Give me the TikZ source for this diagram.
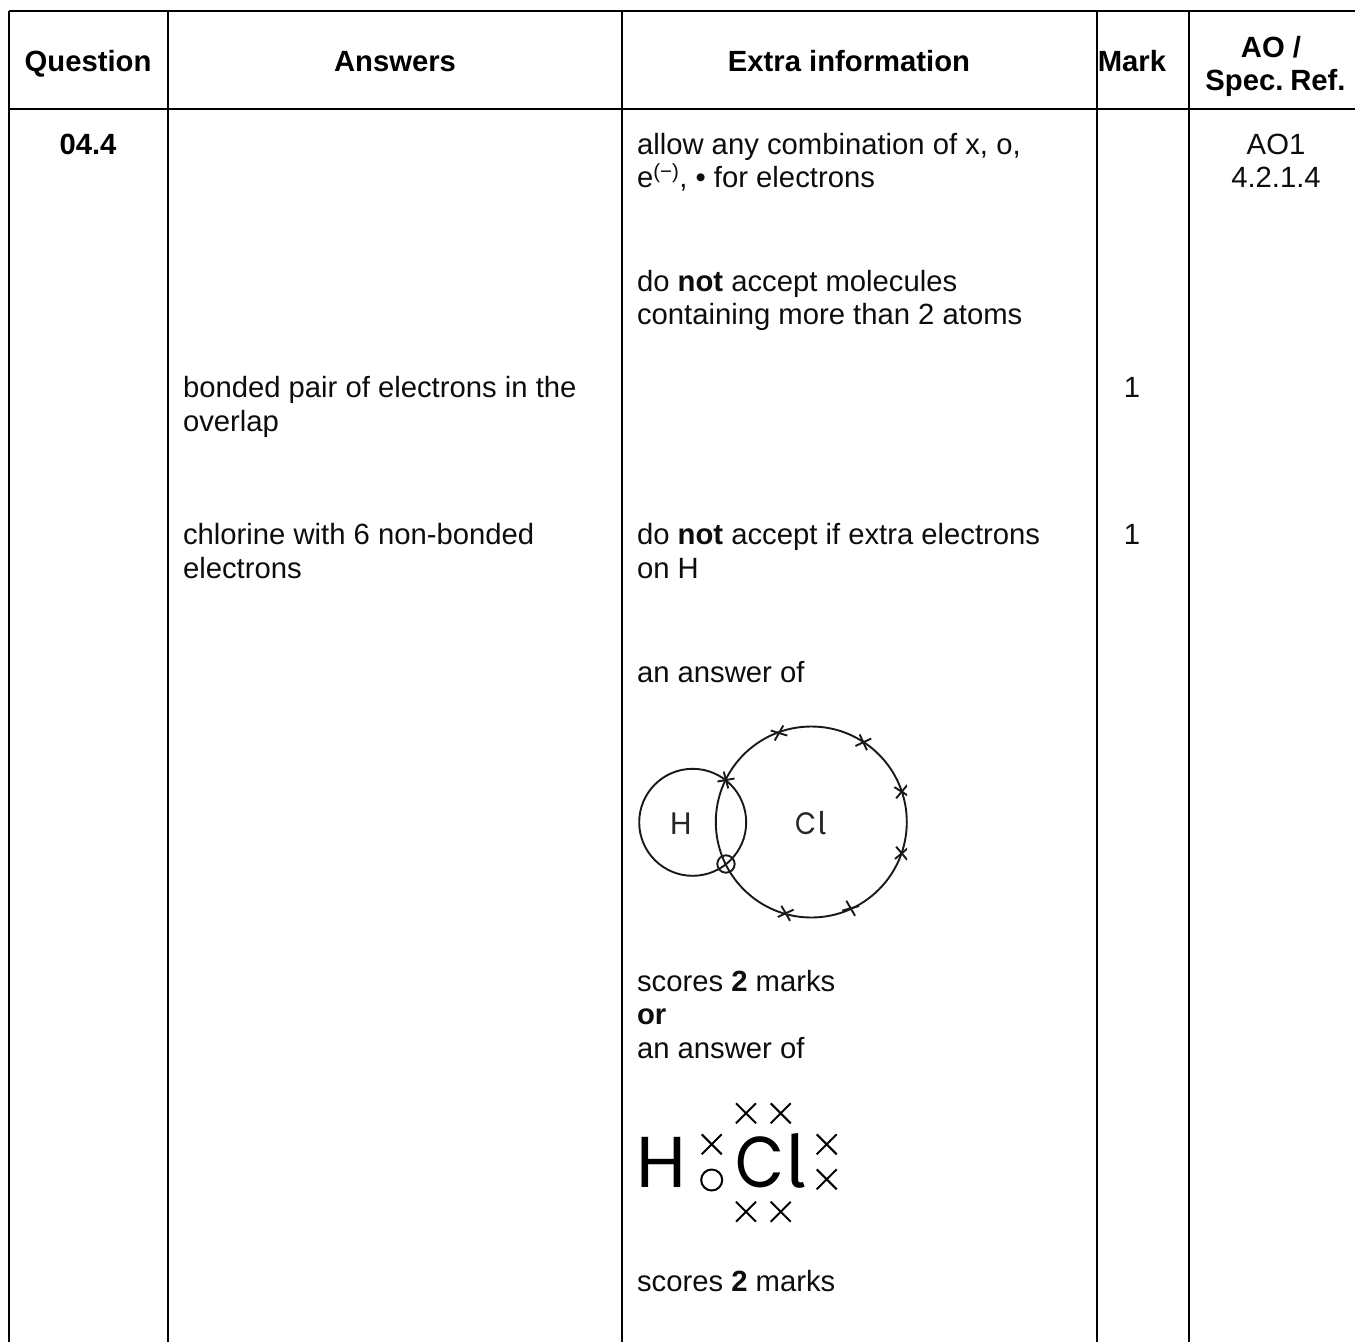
\documentclass[tikz,border=0pt]{standalone}
\usepackage{graphicx}
\usepackage{fontspec}
\setmainfont{Liberation Sans}
\newfontfamily\firafont{Fira Sans}
\newfontfamily\popfont{Poppins}
\tikzset{
  x=1pt,y=-1pt,
  rule/.style={line width=2pt,black},
  txt/.style={anchor=base west,inner sep=0pt,outer sep=0pt,font=\fontsize{29.25}{33}\selectfont,text=black!95},
  ctr/.style={anchor=base,inner sep=0pt,outer sep=0pt,font=\fontsize{29.25}{33}\selectfont,text=black!95},
  hd/.style={anchor=base,inner sep=0pt,outer sep=0pt,font=\fontsize{29.25}{33}\selectfont\bfseries,text=black},
  orbit/.style={line width=1.9pt,draw=black!90},
  xmk/.style={line width=1.9pt,draw=black!90},
  lew/.style={line width=2pt,draw=black},
}
\newcommand{\xcross}[4]{\draw[#4] (#1-#3,#2-#3) -- (#1+#3,#2+#3) (#1-#3,#2+#3) -- (#1+#3,#2-#3);}
\newcommand{\tcross}[4]{\draw[xmk] (#1,#2) ++(#3:8.7) -- ++(#3+180:17.4) (#1,#2) ++(#4:8.7) -- ++(#4+180:17.4);}
\newcommand{\chlor}{\scalebox{0.88}[1]{C}{\firafont\kern1pt l}}
\begin{document}
\begin{tikzpicture}
\useasboundingbox (0,0) rectangle (1355,1342);
\fill[white] (0,0) rectangle (1355,1342);
% table rules
\coordinate (tl) at (9,11); \coordinate (tr) at (1355,11);
\coordinate (hl) at (9,109.3); \coordinate (hr) at (1355,109.3);
\draw[rule] (tl) -- (tr);
\draw[rule] (hl) -- (hr);
\foreach \cx in {9,167.7,622,1097,1189}{\draw[rule] (\cx,11) -- (\cx,1342);}
% header
\node[hd] (h1) at (88,71.2) {Question};
\node[hd] (h2) at (395,71.2) {Answers};
\node[hd] (h3) at (849,71.2) {Extra information};
\node[hd] (h4) at (1132,71.2) {Mark};
\node[hd] (h5a) at (1271,57) {AO /};
\node[hd] (h5b) at (1275.5,90) {Spec.\hspace{-4pt} Ref.};
% row
\node[hd] (q) at (88,154.2) {04.4};
\node[ctr] (ao1) at (1276,154.2) {AO1};
\node[ctr] (ao2) at (1276,187.2) {4.2.1.4};
\node[txt] (a1) at (183,397.2) {bonded pair of electrons in the};
\node[txt] (a2) at (183,431) {overlap};
\node[txt] (a3) at (183,544.2) {chlorine with 6 non-bonded};
\node[txt] (a4) at (183,578) {electrons};
\node[ctr] (m1) at (1132,397.5) {1};
\node[ctr] (m2) at (1132,544.2) {1};
\node[txt] (e1) at (637,154.2) {allow any combination of x, o,};
\node[txt] (e2) at (637,187.2) {e\textsuperscript{(−)}, • for electrons};
\node[txt] (e3) at (637,291.2) {do \textbf{not} accept molecules};
\node[txt] (e4) at (637,324.5) {containing more than 2 atoms};
\node[txt] (e5) at (637,544.2) {do \textbf{not} accept if extra electrons};
\node[txt] (e6) at (637,578) {on H};
\node[txt] (e7) at (637,682.5) {an answer of};
\node[txt] (e8) at (637,991.2) {scores \textbf{2} marks};
\node[txt] (e9) at (637,1024.5) {\textbf{or}};
\node[txt] (e10) at (637,1058) {an answer of};
\node[txt] (e11) at (637,1291.5) {scores \textbf{2} marks};
% orbit diagram
\draw[orbit] (692.7,822.3) circle (53.5);
\draw[orbit] (811.3,822) circle (95.5);
\draw[orbit] (726,864) circle (8.7);
\node[anchor=base,inner sep=0pt,font=\popfont\fontsize{31}{32}\selectfont,text=black!85] (ho) at (681.5,834) {H};
\node[anchor=base,inner sep=0pt,font=\popfont\fontsize{31}{32}\selectfont,text=black!85] (clo) at (811,834) {\chlor};
\begin{scope}
\clip (620,710) rectangle (907,930);
\tcross{779}{733}{17}{-60}
\tcross{863.3}{742.3}{-25}{65}
\tcross{901.7}{791.7}{32}{-50}
\tcross{901.7}{853.3}{-40}{50}
\tcross{850.7}{908.3}{-15}{60}
\tcross{785.7}{913.3}{-25}{60}
\tcross{726}{780}{-10}{75}
\end{scope}
% Lewis diagram
\node[anchor=base,inner sep=0pt,font=\popfont\fontsize{72}{72}\selectfont,text=black] (hl2) at (661,1187.5) {H};
\node[anchor=base west,inner sep=0pt,font=\popfont\fontsize{72}{72}\selectfont,text=black] (cl2) at (735,1187.5) {\chlor};
\xcross{746}{1113.3}{10}{lew}
\xcross{780.7}{1113.3}{10}{lew}
\xcross{711.7}{1144.3}{10}{lew}
\xcross{826.7}{1144.3}{10}{lew}
\xcross{826.7}{1179.3}{10}{lew}
\xcross{746}{1211.7}{10}{lew}
\xcross{780.7}{1211.7}{10}{lew}
\draw[lew] (711.7,1180) circle (10.5);
\end{tikzpicture}
\end{document}
